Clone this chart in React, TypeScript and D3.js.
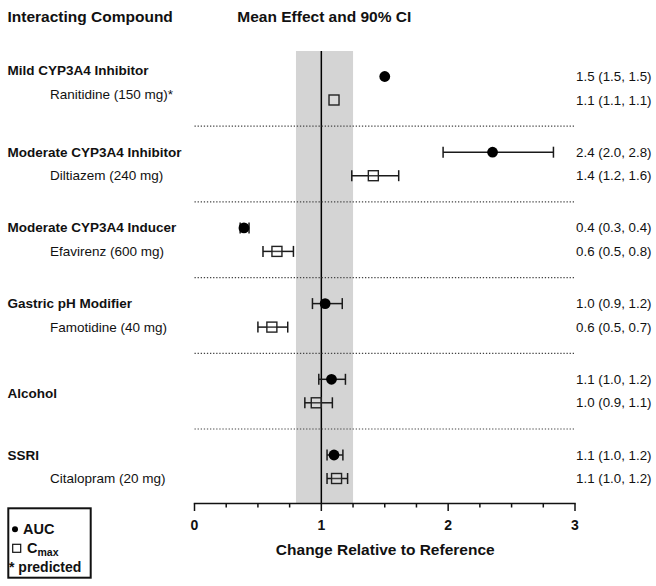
import React from "react";
import * as d3 from "d3";

// ---------- data ----------
const groups = [
  "Mild CYP3A4 Inhibitor",
  "Moderate CYP3A4 Inhibitor",
  "Moderate CYP3A4 Inducer",
  "Gastric pH Modifier",
  "Alcohol",
  "SSRI",
];
const compounds = [
  "Ranitidine (150 mg)*",
  "Diltiazem (240 mg)",
  "Efavirenz (600 mg)",
  "Famotidine (40 mg)",
  "",
  "Citalopram (20 mg)",
];
const aucMean = [1.5, 2.35, 0.39, 1.03, 1.08, 1.1];
const aucLo = [1.5, 1.96, 0.36, 0.93, 0.98, 1.045];
const aucHi = [1.5, 2.83, 0.43, 1.165, 1.19, 1.17];
const cmaxMean = [1.1, 1.41, 0.65, 0.61, 0.96, 1.12];
const cmaxLo = [1.1, 1.24, 0.54, 0.5, 0.87, 1.045];
const cmaxHi = [1.1, 1.61, 0.78, 0.735, 1.087, 1.207];
const aucLabels = [
  "1.5 (1.5, 1.5)",
  "2.4 (2.0, 2.8)",
  "0.4 (0.3, 0.4)",
  "1.0 (0.9, 1.2)",
  "1.1 (1.0, 1.2)",
  "1.1 (1.0, 1.2)",
];
const cmaxLabels = [
  "1.1 (1.1, 1.1)",
  "1.4 (1.2, 1.6)",
  "0.6 (0.5, 0.8)",
  "0.6 (0.5, 0.7)",
  "1.0 (0.9, 1.1)",
  "1.1 (1.0, 1.2)",
];
const refBand = [0.8, 1.25];
const majorTicks = [0, 1, 2, 3];
const xDomain = [0, 3];

// ---------- layout ----------
const W = 656;
const H = 586;
const FONT = "'Liberation Sans', Arial, Helvetica, sans-serif";
const labelShift = [-6, 0, 0, 0, 0, 0];
const cmaxOffset = 23.5;
const sepOffset = 49.7;
const axisY = 503.5;
const plotTop = 51;

export default function App() {
  const x = d3.scaleLinear().domain(xDomain).range([194.5, 575]);
  const y = d3
    .scaleLinear()
    .domain([0, groups.length - 1])
    .range([76.5, 455]);
  const minorTicks = d3.range(0, 3.0001, 0.25).filter((t) => !majorTicks.includes(t));
  const capH = 5.5;
  const sq = 10;

  const errBar = (lo: number, hi: number, cy: number, key: string) => (
    <g key={key} stroke="#1a1a1a" strokeWidth={1.5} fill="none">
      {hi - lo > 0.001 && (
        <>
          <line x1={x(lo)} x2={x(hi)} y1={cy} y2={cy} />
          <line x1={x(lo)} x2={x(lo)} y1={cy - capH} y2={cy + capH} />
          <line x1={x(hi)} x2={x(hi)} y1={cy - capH} y2={cy + capH} />
        </>
      )}
    </g>
  );

  return (
    <svg
      width={W}
      height={H}
      style={{ position: "absolute", left: 0, top: 0, background: "#fff" }}
      fontFamily={FONT}
    >
      <rect x={0} y={0} width={W} height={H} fill="#fff" />
      {/* headers */}
      <text x={7.5} y={16.5} dominantBaseline="central" fontWeight="bold" fontSize={15.5} fill="#111">
        Interacting Compound
      </text>
      <text x={237.3} y={16.5} dominantBaseline="central" fontWeight="bold" fontSize={15.5} fill="#111">
        Mean Effect and 90% CI
      </text>

      {/* reference band and line */}
      <rect
        x={x(refBand[0])}
        y={plotTop}
        width={x(refBand[1]) - x(refBand[0])}
        height={axisY - plotTop}
        fill="#d4d4d4"
      />
      <line x1={x(1)} x2={x(1)} y1={plotTop} y2={axisY} stroke="#000" strokeWidth={1.5} />

      {/* separators */}
      {groups.slice(0, -1).map((g, i) => (
        <line
          key={"sep" + i}
          x1={x(0)}
          x2={x(3)}
          y1={y(i) + sepOffset}
          y2={y(i) + sepOffset}
          stroke="#444"
          strokeWidth={1.2}
          strokeDasharray="1.3 1.8"
        />
      ))}

      {/* rows */}
      {groups.map((g, i) => {
        const ya = y(i);
        const yc = y(i) + cmaxOffset;
        const single = compounds[i] === "";
        return (
          <g key={"row" + i}>
            <text
              x={7.5}
              y={single ? ya + 14.5 : ya + labelShift[i]}
              dominantBaseline="central"
              fontWeight="bold"
              fontSize={13.5}
              fill="#111"
            >
              {g}
            </text>
            {!single && (
              <text x={50} y={yc + labelShift[i]} dominantBaseline="central" fontSize={13.5} fill="#111">
                {compounds[i]}
              </text>
            )}
            {errBar(aucLo[i], aucHi[i], ya, "ea" + i)}
            {errBar(cmaxLo[i], cmaxHi[i], yc, "ec" + i)}
            <circle cx={x(aucMean[i])} cy={ya} r={5.4} fill="#000" />
            <rect
              x={x(cmaxMean[i]) - sq / 2}
              y={yc - sq / 2}
              width={sq}
              height={sq}
              fill="#fff"
              fillOpacity={0.15}
              stroke="#222"
              strokeWidth={1.4}
            />
            <text x={651.5} y={ya} dominantBaseline="central" textAnchor="end" fontSize={13.3} fill="#111">
              {aucLabels[i]}
            </text>
            <text x={651.5} y={yc} dominantBaseline="central" textAnchor="end" fontSize={13.3} fill="#111">
              {cmaxLabels[i]}
            </text>
          </g>
        );
      })}

      {/* axis */}
      <g stroke="#111" strokeWidth={1.5}>
        <line x1={x(0) - 0.75} x2={x(3) + 0.75} y1={axisY} y2={axisY} />
        {majorTicks.map((t) => (
          <line key={"mt" + t} x1={x(t)} x2={x(t)} y1={axisY} y2={axisY + 7.5} />
        ))}
        {minorTicks.map((t) => (
          <line key={"nt" + t} x1={x(t)} x2={x(t)} y1={axisY} y2={axisY + 4} />
        ))}
      </g>
      {majorTicks.map((t) => (
        <text
          key={"tl" + t}
          x={x(t)}
          y={525}
          dominantBaseline="central"
          textAnchor="middle"
          fontWeight="bold"
          fontSize={14}
          fill="#111"
        >
          {t}
        </text>
      ))}
      <text
        x={(x(0) + x(3)) / 2 + 0.5}
        y={549}
        dominantBaseline="central"
        textAnchor="middle"
        fontWeight="bold"
        fontSize={15.5}
        fill="#111"
      >
        Change Relative to Reference
      </text>

      {/* legend */}
      <rect x={8.3} y={508.3} width={82.4} height={69.4} fill="#fff" stroke="#111" strokeWidth={2} />
      <circle cx={15} cy={529.3} r={3} fill="#000" />
      <text x={23} y={529.3} dominantBaseline="central" fontWeight="bold" fontSize={14.5} fill="#111">
        AUC
      </text>
      <rect x={12.7} y={544.3} width={8} height={8} fill="#fff" stroke="#111" strokeWidth={1.2} />
      <text x={27} y={547.5} dominantBaseline="central" fontWeight="bold" fontSize={14.5} fill="#111">
        C
        <tspan fontSize={10.5} dy={4}>
          max
        </tspan>
      </text>
      <text x={9} y={566.7} dominantBaseline="central" fontWeight="bold" fontSize={14} fill="#111">
        * predicted
      </text>
    </svg>
  );
}
